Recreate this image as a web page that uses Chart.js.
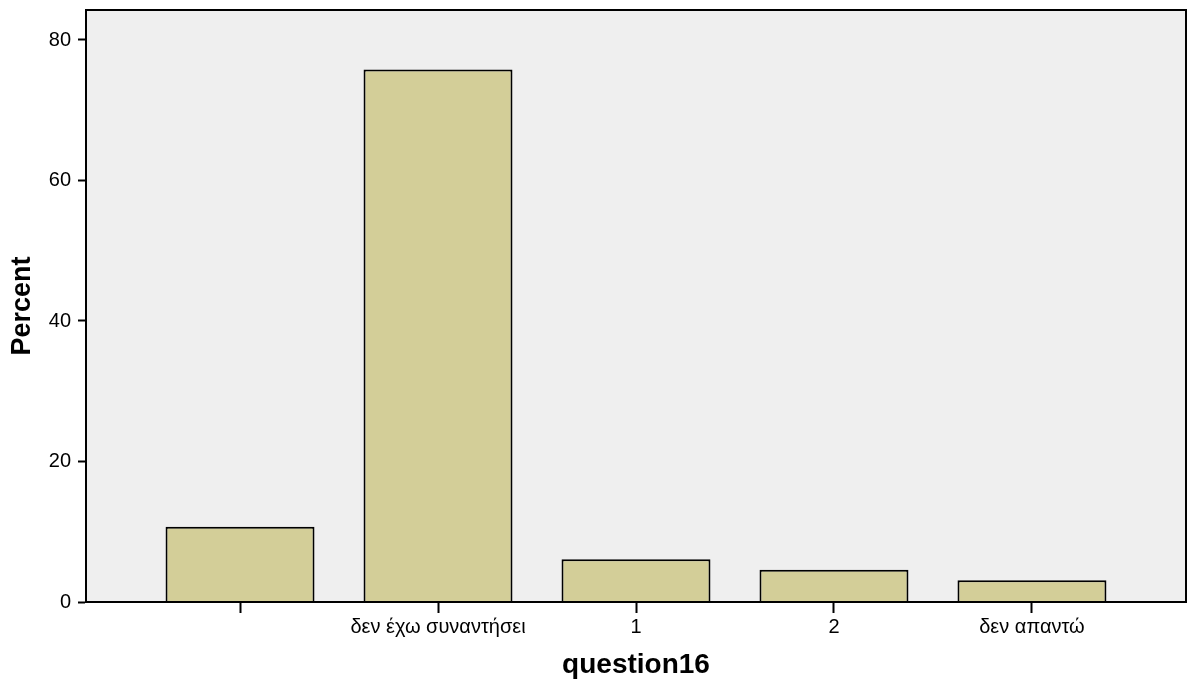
<!DOCTYPE html>
<html>
<head>
<meta charset="utf-8">
<script src="https://cdn.jsdelivr.net/npm/chart.js@4"></script>
<style>
  html, body { margin: 0; padding: 0; background: #fff; }
  #wrap { width: 1191px; height: 682px; }
</style>
</head>
<body>
<div id="wrap"><canvas id="chart"></canvas></div>
<script>
// data
var categories = ['', 'δεν έχω συναντήσει', '1', '2', 'δεν απαντώ'];
var percents = [10.7, 75.8, 6.1, 4.6, 3.1];
var yTicks = [0, 20, 40, 60, 80];

// plot background + frame
var frame = {
    id: 'frame',
    beforeDraw: function (chart) {
        var a = chart.chartArea, ctx = chart.ctx;
        ctx.save();
        ctx.fillStyle = '#EFEFEF';
        ctx.fillRect(a.left, a.top, a.right - a.left, a.bottom - a.top);
        ctx.restore();
    },
    afterDraw: function (chart) {
        var a = chart.chartArea, ctx = chart.ctx;
        ctx.save();
        ctx.strokeStyle = '#000';
        ctx.lineWidth = 2;
        ctx.strokeRect(a.left, a.top, a.right - a.left, a.bottom - a.top);
        ctx.restore();
    }
};

var config = {
    type: 'bar',
    data: {
        datasets: [{
            data: categories.map(function (c, i) {
                return { x: i, y: percents[i] };
            }),
            backgroundColor: '#D3CE98',
            borderColor: '#000',
            borderWidth: 2,
            barPercentage: 1,
            categoryPercentage: 0.7525
        }]
    },
    options: {
        responsive: true,
        maintainAspectRatio: false,
        animation: false,
        layout: { padding: { top: 10, right: 5, left: 0, bottom: 0 } },
        plugins: {
            legend: { display: false },
            tooltip: { enabled: false }
        },
        scales: {
            x: {
                type: 'linear',
                min: -0.778,
                max: 4.778,
                offset: false,
                afterBuildTicks: function (scale) {
                    scale.ticks = categories.map(function (c, i) { return { value: i }; });
                },
                afterFit: function (scale) {
                    scale.height = 80;
                    scale.paddingLeft = 0;
                    scale.paddingRight = 0;
                },
                ticks: {
                    color: '#000',
                    font: { family: 'Liberation Sans, Arial', size: 20 },
                    padding: 2,
                    maxRotation: 0,
                    autoSkip: false,
                    callback: function (v) { return categories[v]; }
                },
                grid: {
                    offset: false,
                    drawOnChartArea: false,
                    tickLength: 11,
                    tickWidth: 2,
                    tickColor: '#000'
                },
                border: { color: '#000', width: 2 },
                title: {
                    display: true,
                    text: 'question16',
                    color: '#000',
                    font: { family: 'Liberation Sans, Arial', size: 28, weight: 'bold' },
                    padding: { top: 0, bottom: 0 }
                }
            },
            y: {
                min: 0,
                max: 84.27,
                afterBuildTicks: function (scale) {
                    scale.ticks = yTicks.map(function (v) { return { value: v }; });
                },
                afterFit: function (scale) {
                    scale.width = 86;
                    scale.paddingTop = 0;
                    scale.paddingBottom = 0;
                },
                ticks: {
                    color: '#000',
                    font: { family: 'Liberation Sans, Arial', size: 20 },
                    padding: 7
                },
                grid: {
                    drawOnChartArea: false,
                    tickLength: 8,
                    tickWidth: 2,
                    tickColor: '#000'
                },
                border: { color: '#000', width: 2 },
                title: {
                    display: true,
                    text: 'Percent',
                    color: '#000',
                    font: { family: 'Liberation Sans, Arial', size: 27, weight: 'bold' },
                    padding: { top: 6, bottom: 0 }
                }
            }
        }
    },
    plugins: [frame]
};

window.onload = function () {
    var ctx = document.getElementById('chart').getContext('2d');
    window.myBar = new Chart(ctx, config);
};
</script>
</body>
</html>
